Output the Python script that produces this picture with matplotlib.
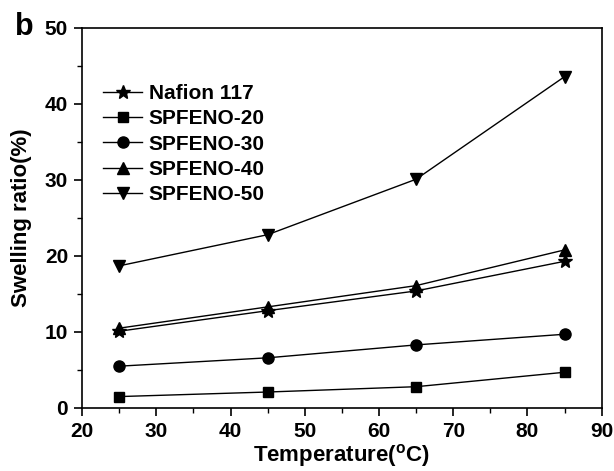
import matplotlib
matplotlib.use("Agg")
import matplotlib.pyplot as plt
from matplotlib.ticker import MultipleLocator

plt.rcParams['font.family'] = ['Liberation Sans', 'DejaVu Sans']
plt.rcParams['font.weight'] = 'bold'
plt.rcParams['mathtext.default'] = 'regular'

temperature = [25, 45, 65, 85]
nafion117 = [10.1, 12.8, 15.4, 19.3]
spfeno20 = [1.5, 2.1, 2.8, 4.7]
spfeno30 = [5.5, 6.6, 8.3, 9.7]
spfeno40 = [10.5, 13.3, 16.1, 20.8]
spfeno50 = [18.7, 22.8, 30.1, 43.6]

series = [
    ("Nafion 117", nafion117, "*"),
    ("SPFENO-20", spfeno20, "s"),
    ("SPFENO-30", spfeno30, "o"),
    ("SPFENO-40", spfeno40, "^"),
    ("SPFENO-50", spfeno50, "v"),
]
msizes = {"*": 10, "s": 7, "o": 8, "^": 8, "v": 8}

fig = plt.figure(figsize=(6.14, 4.71), dpi=100)
ax = fig.add_axes([0.1336, 0.1338, 0.8464, 0.8068])

for name, vals, m in series:
    ax.plot(temperature, vals, marker=m, color='black', lw=1.0, ms=msizes[m], label=name)

ax.set_xlim(20, 90)
ax.set_ylim(0, 50)
ax.xaxis.set_major_locator(MultipleLocator(10))
ax.xaxis.set_minor_locator(MultipleLocator(5))
ax.yaxis.set_major_locator(MultipleLocator(10))
ax.yaxis.set_minor_locator(MultipleLocator(5))
ax.tick_params(which='major', direction='out', length=6, width=1.2, labelsize=15, pad=4)
ax.tick_params(which='minor', direction='out', length=3.5, width=1.0)
for lab in ax.get_xticklabels() + ax.get_yticklabels():
    lab.set_fontweight('bold')
for s in ax.spines.values():
    s.set_linewidth(1.2)

ax.set_xlabel(r"Temperature($^\mathregular{o}$C)", fontsize=16, fontweight='bold', labelpad=1)
ax.set_ylabel("Swelling ratio(%)", fontsize=16, fontweight='bold', labelpad=9)

leg = ax.legend(loc='upper left', bbox_to_anchor=(0.025, 0.874), frameon=False,
                prop={'size': 15, 'weight': 'bold'}, handlelength=1.87,
                labelspacing=0.3, handletextpad=0.3, borderaxespad=0)

fig.text(0.024, 0.926, "b", fontsize=22, fontweight='bold')

fig.savefig("out.png", dpi=100)
